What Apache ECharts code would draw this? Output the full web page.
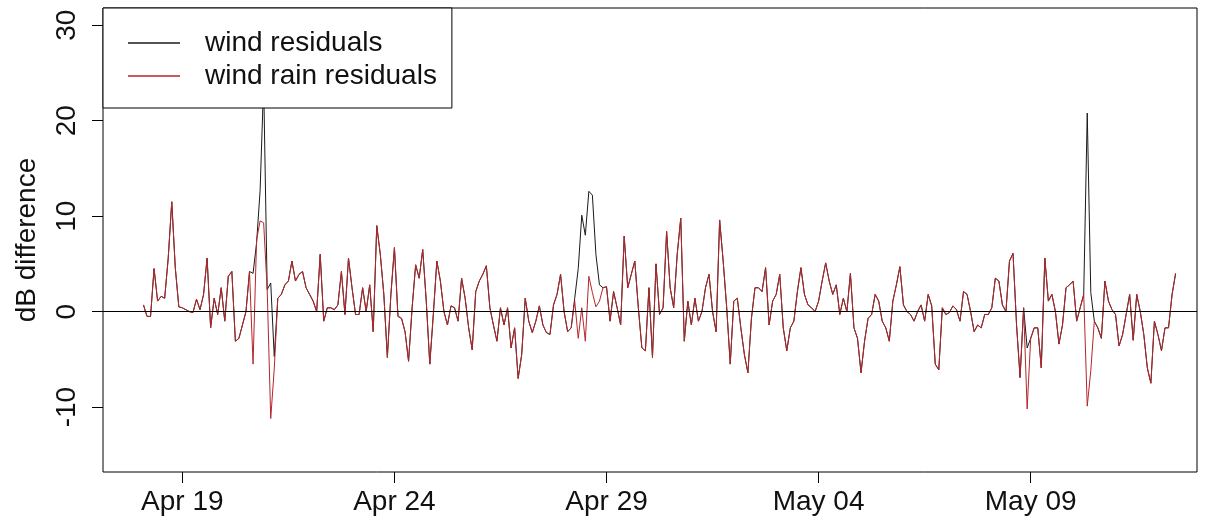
<!DOCTYPE html>
<html>
<head>
<meta charset="utf-8">
<title>dB difference – wind and wind/rain residuals</title>
<script src="https://cdn.jsdelivr.net/npm/echarts@6/dist/echarts.min.js"></script>
<style>
  html, body { margin: 0; padding: 0; background: #fff; }
  #chart { width: 1210px; height: 520px; }
</style>
</head>
<body>
<div id="chart"></div>
<script>
// Two-hourly residual series, first sample Apr 18 02:00 (UTC)
const SERIES_START = Date.UTC(2013, 3, 18, 2, 0);
const STEP_HOURS = 2;

const seriesNames = ['wind residuals', 'wind rain residuals'];

// residuals of the wind-only model (dB)
const windResiduals = [
  0.7,-0.5,-0.5,4.5,1.1,1.6,1.4,5.6,11.5,4.6,0.5,0.4,0.2,0.0,-0.1,1.3,0.2,1.8,5.6,-1.7,
  1.4,-0.3,2.5,-1.0,3.7,4.2,-3.1,-2.8,-1.4,0.0,4.2,4.0,7.2,12.7,24.0,2.3,3.0,-4.7,1.4,1.8,
  2.8,3.2,5.3,3.2,3.9,4.2,2.5,1.8,1.1,0.0,6.0,-1.0,0.4,0.4,0.2,0.7,4.2,-0.3,5.6,2.5,
  -0.3,-0.3,2.5,0.0,2.8,-2.1,9.0,6.0,1.8,-4.8,1.8,6.7,-0.5,-0.7,-2.1,-5.2,0.4,4.9,3.5,6.5,
  1.1,-5.5,-0.3,5.3,3.2,0.0,-1.4,0.6,0.4,-1.0,3.5,1.4,-1.7,-4.0,2.1,3.2,3.9,4.8,0.4,-1.4,
  -3.1,0.4,-1.4,0.4,-3.8,-1.7,-7.0,-4.5,1.4,-1.0,-2.2,-1.0,0.6,-1.4,-2.2,-2.4,0.7,1.8,3.9,0.0,
  -2.1,-1.7,1.4,4.5,10.1,8.0,12.6,12.2,6.0,2.8,2.5,2.6,-1.0,2.1,0.4,-1.4,7.9,2.5,3.9,5.3,
  0.4,-3.8,-4.1,2.5,-4.8,5.0,-0.3,0.4,8.4,2.5,0.4,6.0,9.8,-3.1,1.1,-1.4,1.4,-1.0,0.0,2.5,
  3.9,0.0,-2.1,9.6,5.3,0.4,-5.5,1.1,1.4,-1.7,-4.5,-6.4,-0.7,2.5,2.5,2.1,4.6,-1.4,1.1,1.8,
  3.9,-1.7,-4.1,-1.7,-1.0,2.1,4.6,1.8,0.7,0.4,0.0,1.1,3.2,5.1,3.2,1.8,2.8,-0.3,1.4,0.0,
  4.0,-1.7,-2.8,-6.4,-3.1,-0.7,-0.3,1.8,1.1,-1.0,-1.7,-3.1,1.1,2.8,4.7,0.7,0.0,-0.3,-1.0,0.0,
  0.7,-1.0,1.8,0.6,-5.5,-6.1,0.4,-0.3,-0.1,0.6,0.2,-1.0,2.1,1.8,0.0,-2.1,-1.4,-1.7,-0.3,-0.3,
  0.4,3.5,3.2,0.7,0.0,5.3,6.1,-1.4,-6.9,0.4,-3.8,-2.8,-1.7,-1.7,-5.9,5.6,1.1,1.8,0.0,-3.4,
  -1.4,2.5,2.8,3.2,-1.0,0.4,1.8,20.8,2.0,-1.0,-1.7,-2.8,3.2,1.1,0.2,-0.3,-3.6,-2.4,-0.3,1.8,
  -3.0,1.8,0.0,-2.4,-5.9,-7.5,-1.0,-2.4,-4.1,-1.7,-1.7,1.8,4.0
];

// residuals of the wind + rain model (dB)
const windRainResiduals = [
  0.7,-0.5,-0.5,4.5,1.1,1.6,1.4,5.6,11.5,4.6,0.5,0.4,0.2,0.0,-0.1,1.3,0.2,1.8,5.6,-1.7,
  1.4,-0.3,2.5,-1.0,3.7,4.2,-3.1,-2.8,-1.4,0.0,4.2,-5.5,7.5,9.5,9.3,2.3,-11.2,-6.0,1.4,1.8,
  2.8,3.2,5.3,3.2,3.9,4.2,2.5,1.8,1.1,0.0,6.0,-1.0,0.4,0.4,0.2,0.7,4.2,-0.3,5.6,2.5,
  -0.3,-0.3,2.5,0.0,2.8,-2.1,9.0,6.0,1.8,-4.8,1.8,6.7,-0.5,-0.7,-2.1,-5.2,0.4,4.9,3.5,6.5,
  1.1,-5.5,-0.3,5.3,3.2,0.0,-1.4,0.6,0.4,-1.0,3.5,1.4,-1.7,-4.0,2.1,3.2,3.9,4.8,0.4,-1.4,
  -3.1,0.4,-1.4,0.4,-3.8,-1.7,-7.0,-4.5,1.4,-1.0,-2.2,-1.0,0.6,-1.4,-2.2,-2.4,0.7,1.8,3.9,0.0,
  -2.1,-1.7,1.1,-2.8,0.4,-3.1,3.7,2.0,0.5,1.1,2.5,2.6,-1.0,2.1,0.4,-1.4,7.9,2.5,3.9,5.3,
  0.4,-3.8,-4.1,2.5,-4.8,5.0,-0.3,0.4,8.4,2.5,0.4,6.0,9.8,-3.1,1.1,-1.4,1.4,-1.0,0.0,2.5,
  3.9,0.0,-2.1,9.6,5.3,0.4,-5.5,1.1,1.4,-1.7,-4.5,-6.4,-0.7,2.5,2.5,2.1,4.6,-1.4,1.1,1.8,
  3.9,-1.7,-4.1,-1.7,-1.0,2.1,4.6,1.8,0.7,0.4,0.0,1.1,3.2,5.1,3.2,1.8,2.8,-0.3,1.4,0.0,
  4.0,-1.7,-2.8,-6.4,-3.1,-0.7,-0.3,1.8,1.1,-1.0,-1.7,-3.1,1.1,2.8,4.7,0.7,0.0,-0.3,-1.0,0.0,
  0.7,-1.0,1.8,0.6,-5.5,-6.1,0.4,-0.3,-0.1,0.6,0.2,-1.0,2.1,1.8,0.0,-2.1,-1.4,-1.7,-0.3,-0.3,
  0.4,3.5,3.2,0.7,0.0,5.3,6.1,-1.4,-6.9,0.4,-10.2,-2.8,-1.7,-1.7,-5.9,5.6,1.1,1.8,0.0,-3.4,
  -1.4,2.5,2.8,3.2,-1.0,0.4,1.8,-9.9,-6.2,-1.0,-1.7,-2.8,3.2,1.1,0.2,-0.3,-3.6,-2.4,-0.3,1.8,
  -3.0,1.8,0.0,-2.4,-5.9,-7.5,-1.0,-2.4,-4.1,-1.7,-1.7,1.8,4.0
];

// axis ticks
const xTickDates = [
  Date.UTC(2013, 3, 19), Date.UTC(2013, 3, 24), Date.UTC(2013, 3, 29),
  Date.UTC(2013, 4, 4), Date.UTC(2013, 4, 9)
];
const yTickValues = [-10, 0, 10, 20, 30];

// axis extents
const HOUR = 3600 * 1000;
const X_MIN = xTickDates[0] - 44.9 * HOUR;
const X_MAX = xTickDates[0] + 574.1 * HOUR;
const Y_MIN = -16.8;
const Y_MAX = 31.8;

const MONTHS = ['Jan','Feb','Mar','Apr','May','Jun','Jul','Aug','Sep','Oct','Nov','Dec'];
function dateLabel(ms) {
  const d = new Date(ms);
  const day = String(d.getUTCDate()).padStart(2, '0');
  return MONTHS[d.getUTCMonth()] + ' ' + day;
}

function toPairs(values) {
  return values.map((v, i) => [SERIES_START + i * STEP_HOURS * HOUR, v]);
}

const FONT = '"Liberation Sans", Arial, sans-serif';
const TEXT = '#111';
const BLACK_LINE = '#1a1a1a';
const RED_LINE = '#b5262b';

const chart = echarts.init(document.getElementById('chart'), null, { renderer: 'canvas' });

chart.setOption({
  animation: false,
  backgroundColor: '#fff',
  grid: {
    left: 103, right: 13, top: 8, bottom: 48,
    show: true, borderColor: '#000', borderWidth: 1, backgroundColor: 'transparent'
  },
  legend: {
    data: [
      { name: seriesNames[0], icon: 'rect', itemStyle: { color: BLACK_LINE } },
      { name: seriesNames[1], icon: 'rect', itemStyle: { color: RED_LINE } }
    ],
    orient: 'vertical',
    left: 103, top: 8,
    padding: [21, 15, 18, 25],
    itemGap: 5,
    itemWidth: 52,
    itemHeight: 1.5,
    backgroundColor: '#fff',
    borderColor: '#000',
    borderWidth: 1,
    borderRadius: 0,
    textStyle: { fontSize: 28, color: TEXT, fontFamily: FONT, padding: [0, 0, 0, 20] }
  },
  xAxis: {
    type: 'value',
    min: X_MIN, max: X_MAX,
    axisLine: { show: false, onZero: false },
    splitLine: { show: false },
    axisTick: { show: true, length: 11, customValues: xTickDates, lineStyle: { color: '#000' } },
    axisLabel: {
      customValues: xTickDates,
      formatter: dateLabel,
      fontSize: 28, color: TEXT, fontFamily: FONT, margin: 16
    }
  },
  yAxis: {
    type: 'value',
    min: Y_MIN, max: Y_MAX,
    name: 'dB difference',
    nameLocation: 'middle',
    nameRotate: 90,
    nameGap: 62,
    nameTextStyle: { fontSize: 28, color: TEXT, fontFamily: FONT },
    axisLine: { show: false, onZero: false },
    splitLine: { show: false },
    axisTick: { show: true, length: 11, customValues: yTickValues, lineStyle: { color: '#000' } },
    axisLabel: {
      customValues: yTickValues,
      rotate: 90,
      fontSize: 28, color: TEXT, fontFamily: FONT, margin: 22
    }
  },
  series: [
    {
      name: seriesNames[0],
      type: 'line',
      data: toPairs(windResiduals),
      symbol: 'none',
      lineStyle: { color: BLACK_LINE, width: 1 },
      itemStyle: { color: BLACK_LINE },
      silent: true
    },
    {
      name: seriesNames[1],
      type: 'line',
      data: toPairs(windRainResiduals),
      symbol: 'none',
      lineStyle: { color: RED_LINE, width: 1 },
      itemStyle: { color: RED_LINE },
      silent: true,
      markLine: {
        silent: true,
        symbol: ['none', 'none'],
        label: { show: false },
        lineStyle: { color: '#000', width: 1, type: 'solid' },
        data: [{ yAxis: 0 }]
      }
    }
  ]
});
</script>
</body>
</html>
